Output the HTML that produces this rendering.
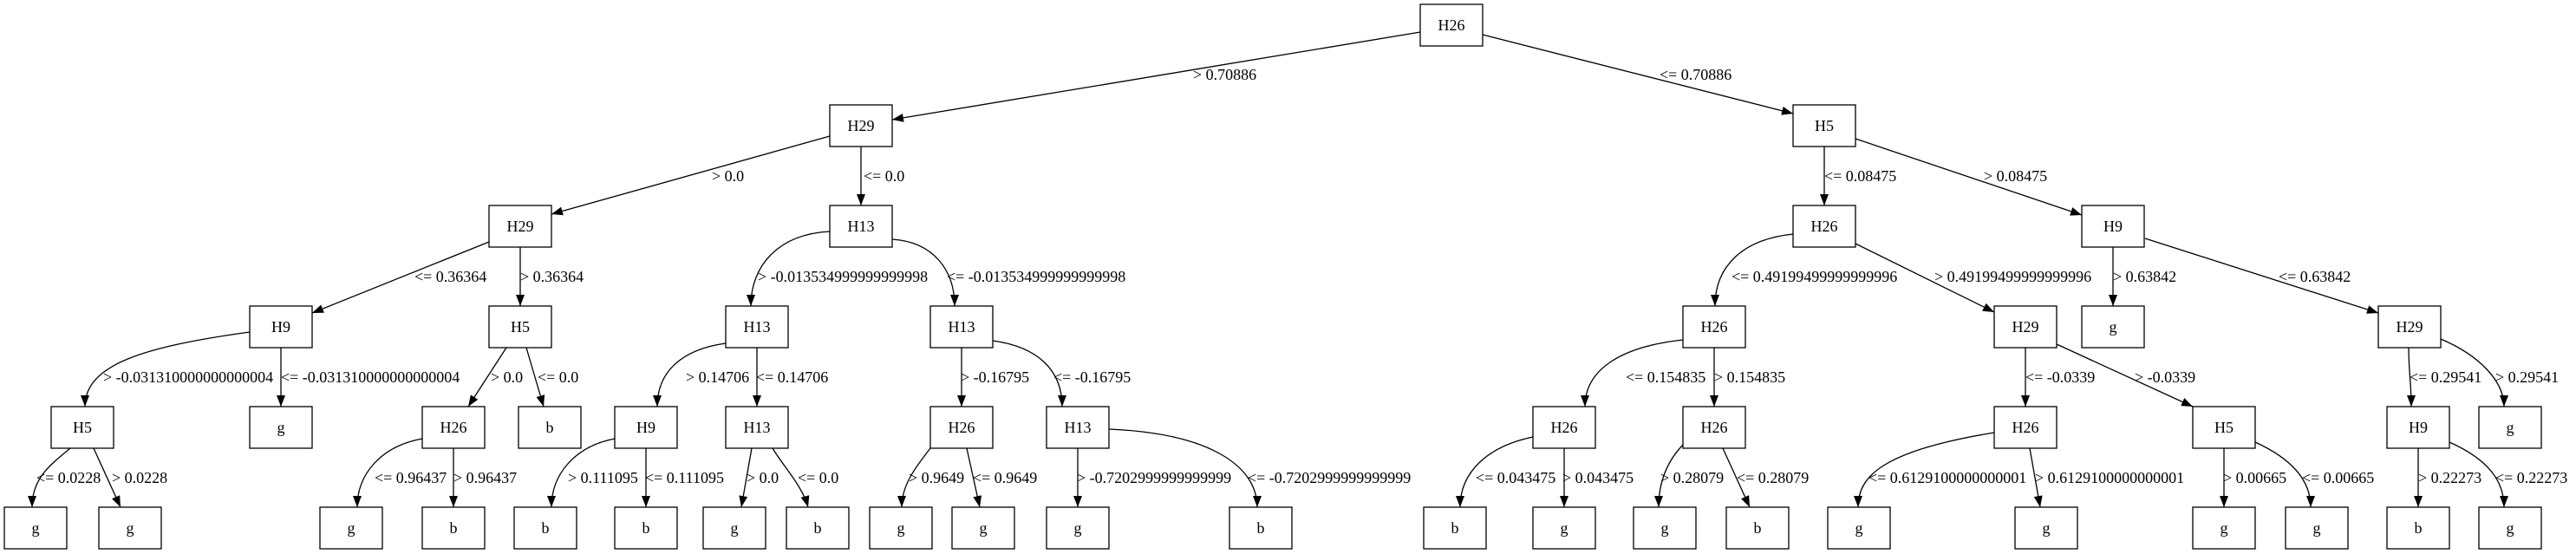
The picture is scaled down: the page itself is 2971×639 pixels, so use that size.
<!DOCTYPE html>
<html><head><meta charset="utf-8"><style>
html,body{margin:0;padding:0;background:#fff}
svg{display:block}
text{font-family:"Liberation Serif",serif;font-size:18px;fill:#000}
.n{text-anchor:middle}
rect{fill:#fff;stroke:#000;stroke-width:1.3}
path.e{fill:none;stroke:#000;stroke-width:1.3;marker-end:url(#a)}
</style></head><body>
<svg width="2971" height="639" viewBox="0 0 2971 639" xmlns="http://www.w3.org/2000/svg">
<defs><marker id="a" markerUnits="userSpaceOnUse" markerWidth="13" markerHeight="10" refX="13" refY="5" orient="auto"><path d="M0,0 L13,5 L0,10 z" fill="#000"/></marker></defs>

<!-- edges -->
<path class="e" d="M1638,37 L1029,138"/>
<path class="e" d="M1710,40 L2068,131"/>
<path class="e" d="M957,157 L636,247"/>
<path class="e" d="M993,169 L993,237"/>
<path class="e" d="M564,279 L360,361"/>
<path class="e" d="M600,285 L600,353"/>
<path class="e" d="M957,267 C898,270 866,306 866,353"/>
<path class="e" d="M1029,276 C1076,279 1101,311 1101,353"/>
<path class="e" d="M288,383 C164,400 98,421 98,469"/>
<path class="e" d="M324,401 L324,469"/>
<path class="e" d="M584,401 L540,469"/>
<path class="e" d="M607,401 L627,469"/>
<path class="e" d="M837,396 C786,403 758,429 758,469"/>
<path class="e" d="M873,401 L873,469"/>
<path class="e" d="M1109,401 L1109,469"/>
<path class="e" d="M1145,393 C1197,400 1225,427 1225,469"/>
<path class="e" d="M1941,392 C1868,400 1828,427 1828,469"/>
<path class="e" d="M1977,401 L1977,469"/>
<path class="e" d="M2104,169 L2104,237"/>
<path class="e" d="M2140,160 L2401,248"/>
<path class="e" d="M2068,270 C2010,276 1978,307 1978,353"/>
<path class="e" d="M2140,281 L2300,360"/>
<path class="e" d="M2437,285 L2437,353"/>
<path class="e" d="M2474,275 L2743,361"/>
<path class="e" d="M2336,401 L2336,469"/>
<path class="e" d="M2372,397 L2529,469"/>
<path class="e" d="M2778,401 C2778,430 2781,440 2781,469"/>
<path class="e" d="M2815,391 C2860,410 2888,440 2888,469"/>

<path class="e" d="M81,517 C60,535 37,550 37,585"/>
<path class="e" d="M108,517 L139,585"/>
<path class="e" d="M487,506 C438,515 412,548 412,585"/>
<path class="e" d="M523,517 L523,585"/>
<path class="e" d="M709,506 C662,515 636,548 636,585"/>
<path class="e" d="M745,517 L745,585"/>
<path class="e" d="M867,517 L855,585"/>
<path class="e" d="M891,517 C905,540 925,560 932,585"/>
<path class="e" d="M1073,517 C1055,540 1040,560 1040,585"/>
<path class="e" d="M1115,517 L1130,585"/>
<path class="e" d="M1243,517 L1243,585"/>
<path class="e" d="M1279,495 C1400,500 1450,540 1450,585"/>
<path class="e" d="M1768,504 C1715,515 1684,545 1684,585"/>
<path class="e" d="M1804,517 L1804,585"/>
<path class="e" d="M1941,513 C1920,535 1913,560 1913,585"/>
<path class="e" d="M1987,517 L2018,585"/>
<path class="e" d="M2300,499 C2170,520 2143,550 2143,585"/>
<path class="e" d="M2341,517 L2353,585"/>
<path class="e" d="M2565,517 L2565,585"/>
<path class="e" d="M2601,510 C2645,530 2665,555 2665,585"/>
<path class="e" d="M2789,517 L2789,585"/>
<path class="e" d="M2825,510 C2870,530 2888,555 2888,585"/>

<!-- edge labels -->
<text x="1376" y="92">&gt; 0.70886</text>
<text x="1914" y="92">&lt;= 0.70886</text>
<text x="821" y="209">&gt; 0.0</text>
<text x="996" y="209">&lt;= 0.0</text>
<text x="2104" y="209">&lt;= 0.08475</text>
<text x="2288" y="209">&gt; 0.08475</text>
<text x="478" y="325">&lt;= 0.36364</text>
<text x="600" y="325">&gt; 0.36364</text>
<text x="874" y="325">&gt; -0.013534999999999998</text>
<text x="1092" y="325">&lt;= -0.013534999999999998</text>
<text x="1997" y="325">&lt;= 0.49199499999999996</text>
<text x="2231" y="325">&gt; 0.49199499999999996</text>
<text x="2437" y="325">&gt; 0.63842</text>
<text x="2628" y="325">&lt;= 0.63842</text>
<text x="119" y="441">&gt; -0.031310000000000004</text>
<text x="324" y="441">&lt;= -0.031310000000000004</text>
<text x="566" y="441">&gt; 0.0</text>
<text x="620" y="441">&lt;= 0.0</text>
<text x="791" y="441">&gt; 0.14706</text>
<text x="872" y="441">&lt;= 0.14706</text>
<text x="1108" y="441">&gt; -0.16795</text>
<text x="1215" y="441">&lt;= -0.16795</text>
<text x="1875" y="441">&lt;= 0.154835</text>
<text x="1977" y="441">&gt; 0.154835</text>
<text x="2336" y="441">&lt;= -0.0339</text>
<text x="2462" y="441">&gt; -0.0339</text>
<text x="2779" y="441">&lt;= 0.29541</text>
<text x="2878" y="441">&gt; 0.29541</text>
<text x="42" y="557">&lt;= 0.0228</text>
<text x="129" y="557">&gt; 0.0228</text>
<text x="432" y="557">&lt;= 0.96437</text>
<text x="523" y="557">&gt; 0.96437</text>
<text x="655" y="557">&gt; 0.111095</text>
<text x="744" y="557">&lt;= 0.111095</text>
<text x="861" y="557">&gt; 0.0</text>
<text x="920" y="557">&lt;= 0.0</text>
<text x="1048" y="557">&gt; 0.9649</text>
<text x="1122" y="557">&lt;= 0.9649</text>
<text x="1242" y="557">&gt; -0.7202999999999999</text>
<text x="1439" y="557">&lt;= -0.7202999999999999</text>
<text x="1702" y="557">&lt;= 0.043475</text>
<text x="1802" y="557">&gt; 0.043475</text>
<text x="1915" y="557">&gt; 0.28079</text>
<text x="2003" y="557">&lt;= 0.28079</text>
<text x="2155" y="557">&lt;= 0.6129100000000001</text>
<text x="2347" y="557">&gt; 0.6129100000000001</text>
<text x="2564" y="557">&gt; 0.00665</text>
<text x="2655" y="557">&lt;= 0.00665</text>
<text x="2789" y="557">&gt; 0.22273</text>
<text x="2878" y="557">&lt;= 0.22273</text>

<!-- nodes row0 -->
<rect x="1638" y="5" width="72" height="48"/><text class="n" x="1674" y="35">H26</text>
<!-- row1 -->
<rect x="957" y="121" width="72" height="48"/><text class="n" x="993" y="151">H29</text>
<rect x="2068" y="121" width="72" height="48"/><text class="n" x="2104" y="151">H5</text>
<!-- row2 -->
<rect x="564" y="237" width="72" height="48"/><text class="n" x="600" y="267">H29</text>
<rect x="957" y="237" width="72" height="48"/><text class="n" x="993" y="267">H13</text>
<rect x="2068" y="237" width="72" height="48"/><text class="n" x="2104" y="267">H26</text>
<rect x="2401" y="237" width="72" height="48"/><text class="n" x="2437" y="267">H9</text>
<!-- row3 -->
<rect x="288" y="353" width="72" height="48"/><text class="n" x="324" y="383">H9</text>
<rect x="564" y="353" width="72" height="48"/><text class="n" x="600" y="383">H5</text>
<rect x="837" y="353" width="72" height="48"/><text class="n" x="873" y="383">H13</text>
<rect x="1073" y="353" width="72" height="48"/><text class="n" x="1109" y="383">H13</text>
<rect x="1941" y="353" width="72" height="48"/><text class="n" x="1977" y="383">H26</text>
<rect x="2300" y="353" width="72" height="48"/><text class="n" x="2336" y="383">H29</text>
<rect x="2401" y="353" width="72" height="48"/><text class="n" x="2437" y="383">g</text>
<rect x="2743" y="353" width="72" height="48"/><text class="n" x="2779" y="383">H29</text>
<!-- row4 -->
<rect x="59" y="469" width="72" height="48"/><text class="n" x="95" y="499">H5</text>
<rect x="288" y="469" width="72" height="48"/><text class="n" x="324" y="499">g</text>
<rect x="487" y="469" width="72" height="48"/><text class="n" x="523" y="499">H26</text>
<rect x="598" y="469" width="72" height="48"/><text class="n" x="634" y="499">b</text>
<rect x="709" y="469" width="72" height="48"/><text class="n" x="745" y="499">H9</text>
<rect x="837" y="469" width="72" height="48"/><text class="n" x="873" y="499">H13</text>
<rect x="1073" y="469" width="72" height="48"/><text class="n" x="1109" y="499">H26</text>
<rect x="1207" y="469" width="72" height="48"/><text class="n" x="1243" y="499">H13</text>
<rect x="1768" y="469" width="72" height="48"/><text class="n" x="1804" y="499">H26</text>
<rect x="1941" y="469" width="72" height="48"/><text class="n" x="1977" y="499">H26</text>
<rect x="2300" y="469" width="72" height="48"/><text class="n" x="2336" y="499">H26</text>
<rect x="2529" y="469" width="72" height="48"/><text class="n" x="2565" y="499">H5</text>
<rect x="2753" y="469" width="72" height="48"/><text class="n" x="2789" y="499">H9</text>
<rect x="2859" y="469" width="72" height="48"/><text class="n" x="2895" y="499">g</text>
<!-- row5 -->
<rect x="5" y="585" width="72" height="48"/><text class="n" x="41" y="615">g</text>
<rect x="114" y="585" width="72" height="48"/><text class="n" x="150" y="615">g</text>
<rect x="369" y="585" width="72" height="48"/><text class="n" x="405" y="615">g</text>
<rect x="487" y="585" width="72" height="48"/><text class="n" x="523" y="615">b</text>
<rect x="593" y="585" width="72" height="48"/><text class="n" x="629" y="615">b</text>
<rect x="709" y="585" width="72" height="48"/><text class="n" x="745" y="615">b</text>
<rect x="811" y="585" width="72" height="48"/><text class="n" x="847" y="615">g</text>
<rect x="907" y="585" width="72" height="48"/><text class="n" x="943" y="615">b</text>
<rect x="1003" y="585" width="72" height="48"/><text class="n" x="1039" y="615">g</text>
<rect x="1098" y="585" width="72" height="48"/><text class="n" x="1134" y="615">g</text>
<rect x="1207" y="585" width="72" height="48"/><text class="n" x="1243" y="615">g</text>
<rect x="1418" y="585" width="72" height="48"/><text class="n" x="1454" y="615">b</text>
<rect x="1642" y="585" width="72" height="48"/><text class="n" x="1678" y="615">b</text>
<rect x="1768" y="585" width="72" height="48"/><text class="n" x="1804" y="615">g</text>
<rect x="1884" y="585" width="72" height="48"/><text class="n" x="1920" y="615">g</text>
<rect x="1991" y="585" width="72" height="48"/><text class="n" x="2027" y="615">b</text>
<rect x="2108" y="585" width="72" height="48"/><text class="n" x="2144" y="615">g</text>
<rect x="2324" y="585" width="72" height="48"/><text class="n" x="2360" y="615">g</text>
<rect x="2529" y="585" width="72" height="48"/><text class="n" x="2565" y="615">g</text>
<rect x="2636" y="585" width="72" height="48"/><text class="n" x="2672" y="615">g</text>
<rect x="2753" y="585" width="72" height="48"/><text class="n" x="2789" y="615">b</text>
<rect x="2859" y="585" width="72" height="48"/><text class="n" x="2895" y="615">g</text>
</svg>
</body></html>
